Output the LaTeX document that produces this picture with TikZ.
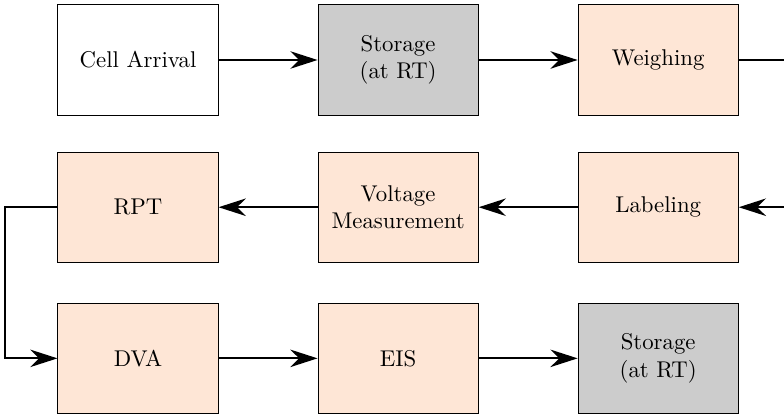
\documentclass[tikz,border=0pt]{standalone}
\usepackage{tikz}
\usetikzlibrary{arrows.meta}

\definecolor{peach}{RGB}{254,230,214}
\definecolor{shelf}{RGB}{204,204,204}

\begin{document}
\begin{tikzpicture}[
    every node/.style={font=\normalsize},
    stage/.style={rectangle, draw, minimum width=2.47cm, minimum height=1.7cm,
                  align=center, inner sep=2pt},
    lab/.style={stage, fill=peach},
    store/.style={stage, fill=shelf},
    e/.style={thick, -{Stealth[length=4.2mm, width=2.7mm]}},
  ]
  \clip (-2.128, 0.925) rectangle (9.96, -5.505);
  \node[stage] (arrival) at (0.00, 0.00) {Cell Arrival};
  \node[store] (rest1) at (4.01, 0.00) {Storage\\(at RT)};
  \node[lab] (weigh) at (8.02, 0.00) {Weighing};
  \node[lab] (label) at (8.02, -2.27) {Labeling};
  \node[lab] (volt) at (4.01, -2.27) {Voltage\\Measurement};
  \node[lab] (rpt) at (0.00, -2.27) {RPT};
  \node[lab] (dva) at (0.00, -4.60) {DVA};
  \node[lab] (eis) at (4.01, -4.60) {EIS};
  \node[store] (rest2) at (8.02, -4.60) {Storage\\(at RT)};
  \coordinate (rt) at (10.40, 0.00);
  \coordinate (rb) at (10.40, -2.27);
  \coordinate (lt) at (-2.05, -2.27);
  \coordinate (lb) at (-2.05, -4.60);
  \draw[e] (arrival) -- (rest1);
  \draw[e] (rest1) -- (weigh);
  \draw[e] (weigh.east) -- (rt) -- (rb) -- (label.east);
  \draw[e] (label) -- (volt);
  \draw[e] (volt) -- (rpt);
  \draw[e] (rpt.west) -- (lt) -- (lb) -- (dva.west);
  \draw[e] (dva) -- (eis);
  \draw[e] (eis) -- (rest2);
\end{tikzpicture}
\end{document}
